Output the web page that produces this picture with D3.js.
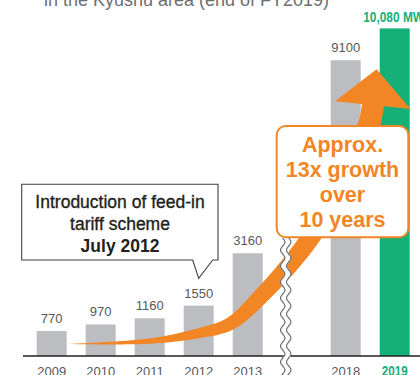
<!DOCTYPE html>
<html>
<head>
<meta charset="utf-8">
<script src="https://cdn.jsdelivr.net/npm/d3@7"></script>
<style>
  body { margin: 0; background: #fff; }
  svg { display: block; }
</style>
</head>
<body>
<div class="bg"></div>
<script>
const W = 420, H = 375;

// data
const slots = ["2009", "2010", "2011", "2012", "2013", "break", "2018", "2019"];
const years = ["2009", "2010", "2011", "2012", "2013", "2018", "2019"];
const values = [770, 970, 1160, 1550, 3160, 9100, 10080];
const totalLabel = "10,080 MW";
const titleText = "in the Kyushu area (end of FY2019)";
const noteLines = ["Introduction of feed-in", "tariff scheme", "July 2012"];
const growthLines = ["Approx.", "13x growth", "over", "10 years"];

// arrow guide: [fractional slot position, MW level]
const arrowGuide = [
  [0.62, 370], [2.31, 460], [3.33, 710], [3.94, 985],
  [4.56, 1815], [5.58, 3630], [6.19, 5415], [6.78, 7110], [6.86, 7720]
];

const gray = "#bcbdc0";
const green = "#14b077";
const orange = "#f28524";
const textGray = "#58595b";
const sans = "'Liberation Sans', Arial, sans-serif";

const svg = d3.select(".bg").append("svg")
  .attr("width", W)
  .attr("height", H);

const x = d3.scaleBand()
  .domain(slots)
  .range([36.7, 409.7])
  .paddingInner(0.388)
  .paddingOuter(0);

const y = d3.scaleLinear()
  .domain([0, 10080])
  .range([356, 28.4]);

const bw = x.bandwidth();
const step = x.step();
const xAt = i => x(slots[0]) + i * step;

const rows = years.map((yr, i) => ({ year: yr, value: values[i] }));

// squeezed text, the original uses a condensed face
function narrowText(parent, str, px, py, opts) {
  return parent.append("text")
    .attr("transform", `translate(${px},${py}) scale(${opts.sx || 0.82},1)`)
    .attr("text-anchor", opts.anchor || "start")
    .attr("font-family", sans)
    .attr("font-weight", opts.weight || "bold")
    .attr("font-size", opts.size)
    .attr("fill", opts.fill)
    .text(str);
}

// title (cut off by the top edge)
svg.append("text")
  .attr("x", 186.5)
  .attr("y", 5.5)
  .attr("text-anchor", "middle")
  .attr("font-family", sans)
  .attr("font-size", 18)
  .attr("fill", "#6d6e71")
  .text(titleText);

// bars
svg.selectAll(".bar")
  .data(rows)
  .enter().append("rect")
  .attr("class", "bar")
  .attr("x", d => x(d.year))
  .attr("y", d => y(d.value))
  .attr("width", bw)
  .attr("height", d => y(0) - y(d.value))
  .attr("fill", d => d.year === "2019" ? green : gray);

// baseline
svg.append("line")
  .attr("x1", 23).attr("x2", W)
  .attr("y1", y(0)).attr("y2", y(0))
  .attr("stroke", "#231f20")
  .attr("stroke-width", 1.6);

// value labels
svg.selectAll(".val")
  .data(rows.filter(d => d.year !== "2019"))
  .enter().append("text")
  .attr("class", "val")
  .attr("x", d => x(d.year) + bw / 2)
  .attr("y", d => y(d.value) - 8)
  .attr("text-anchor", "middle")
  .attr("font-family", sans)
  .attr("font-size", 13)
  .attr("fill", textGray)
  .text(d => d.value);

narrowText(svg, totalLabel, x("2019") - 16.5, 21.5, { size: 14, fill: green, sx: 0.85 });

// year labels
svg.selectAll(".yr")
  .data(rows.filter(d => d.year !== "2019"))
  .enter().append("text")
  .attr("class", "yr")
  .attr("x", d => x(d.year) + bw / 2)
  .attr("y", 375.5)
  .attr("text-anchor", "middle")
  .attr("font-family", sans)
  .attr("font-size", 13)
  .attr("fill", textGray)
  .text(d => d.year);
narrowText(svg, "2019", x("2019") + bw / 2, 375.5, { size: 14, fill: green, sx: 0.83, anchor: "middle" });

// growth arrow
const guidePts = arrowGuide.map(g => [xAt(g[0]), y(g[1])]);
const guide = svg.append("path")
  .attr("d", d3.line().curve(d3.curveCatmullRom)(guidePts))
  .attr("fill", "none")
  .attr("stroke", "none");

const node = guide.node();
const len = node.getTotalLength();
const widthAt = d3.scaleLinear()
  .domain([0, 0.19, 0.38, 0.48, 0.66, 0.9, 1])
  .range([0, 5, 13, 16, 19, 22, 22]);

const n = 80;
const left = [], right = [];
let lastDir = [0, -1];
for (let k = 0; k <= n; k++) {
  const s = k / n;
  const p = node.getPointAtLength(s * len);
  const a = node.getPointAtLength(Math.max(0, s * len - 1));
  const b = node.getPointAtLength(Math.min(len, s * len + 1));
  let dx = b.x - a.x, dy = b.y - a.y;
  const m = Math.hypot(dx, dy) || 1;
  dx /= m; dy /= m;
  lastDir = [dx, dy];
  const hw = widthAt(s) / 2;
  left.push([p.x + dy * hw, p.y - dx * hw]);
  right.push([p.x - dy * hw, p.y + dx * hw]);
}
const end = guidePts[guidePts.length - 1];
const [ux, uy] = lastDir;
const nx = -uy, ny = ux; // perpendicular
const headHalf = 38, headLen = 36;
// left side up, head, right side back down
const outline = left.concat([
  [end[0] - nx * headHalf, end[1] - ny * headHalf],
  [end[0] + ux * headLen, end[1] + uy * headLen],
  [end[0] + nx * headHalf, end[1] + ny * headHalf]
]).concat(right.slice().reverse());

svg.append("path")
  .attr("d", "M" + outline.map(p => p.join(",")).join("L") + "Z")
  .attr("fill", orange);

// axis break (wavy double line)
const bx = x("break") + 4;
const wave = off => {
  const pts = [];
  for (let yy = 238; yy <= 378; yy += 1) {
    pts.push([bx + off + 2.2 * Math.sin((yy - 238) / 16 * 2 * Math.PI), yy]);
  }
  return d3.line()(pts);
};
svg.append("path").attr("d", wave(0))
  .attr("fill", "none").attr("stroke", "#fff").attr("stroke-width", 6);
[-3, 3].forEach(off => {
  svg.append("path").attr("d", wave(off))
    .attr("fill", "none").attr("stroke", "#6d6e71").attr("stroke-width", 1.2);
});

// growth callout
const gBox = svg.append("g");
gBox.append("rect")
  .attr("x", 276.7).attr("y", 126)
  .attr("width", 131.6).attr("height", 111.3)
  .attr("rx", 9)
  .attr("fill", "#fff")
  .attr("stroke", orange)
  .attr("stroke-width", 2);
gBox.selectAll("text")
  .data(growthLines)
  .enter().append("text")
  .attr("x", 342.5)
  .attr("y", (d, i) => 151.5 + i * 25.3)
  .attr("text-anchor", "middle")
  .attr("font-family", sans)
  .attr("font-weight", "bold")
  .attr("font-size", 21.5)
  .attr("fill", orange)
  .text(d => d);

// feed-in tariff callout
const cx0 = 21.7, cx1 = 218, cy0 = 184.3, cy1 = 260;
const tipX = x("2012") + bw / 2;
svg.append("path")
  .attr("d", `M${cx0},${cy0}H${cx1}V${cy1}H${tipX + 14}L${tipX},${cy1 + 18.3}L${tipX - 6},${cy1}H${cx0}Z`)
  .attr("fill", "#fff")
  .attr("stroke", "#404041")
  .attr("stroke-width", 1.1);
svg.selectAll(".note")
  .data(noteLines)
  .enter().append("text")
  .attr("class", "note")
  .attr("x", 120)
  .attr("y", (d, i) => 208 + i * 22)
  .attr("text-anchor", "middle")
  .attr("font-family", sans)
  .attr("font-weight", (d, i) => i === 2 ? "bold" : "normal")
  .attr("font-size", 17.5)
  .attr("fill", "#231f20")
  .attr("stroke", (d, i) => i === 2 ? "none" : "#231f20")
  .attr("stroke-width", 0.35)
  .text(d => d);
</script>
</body>
</html>
